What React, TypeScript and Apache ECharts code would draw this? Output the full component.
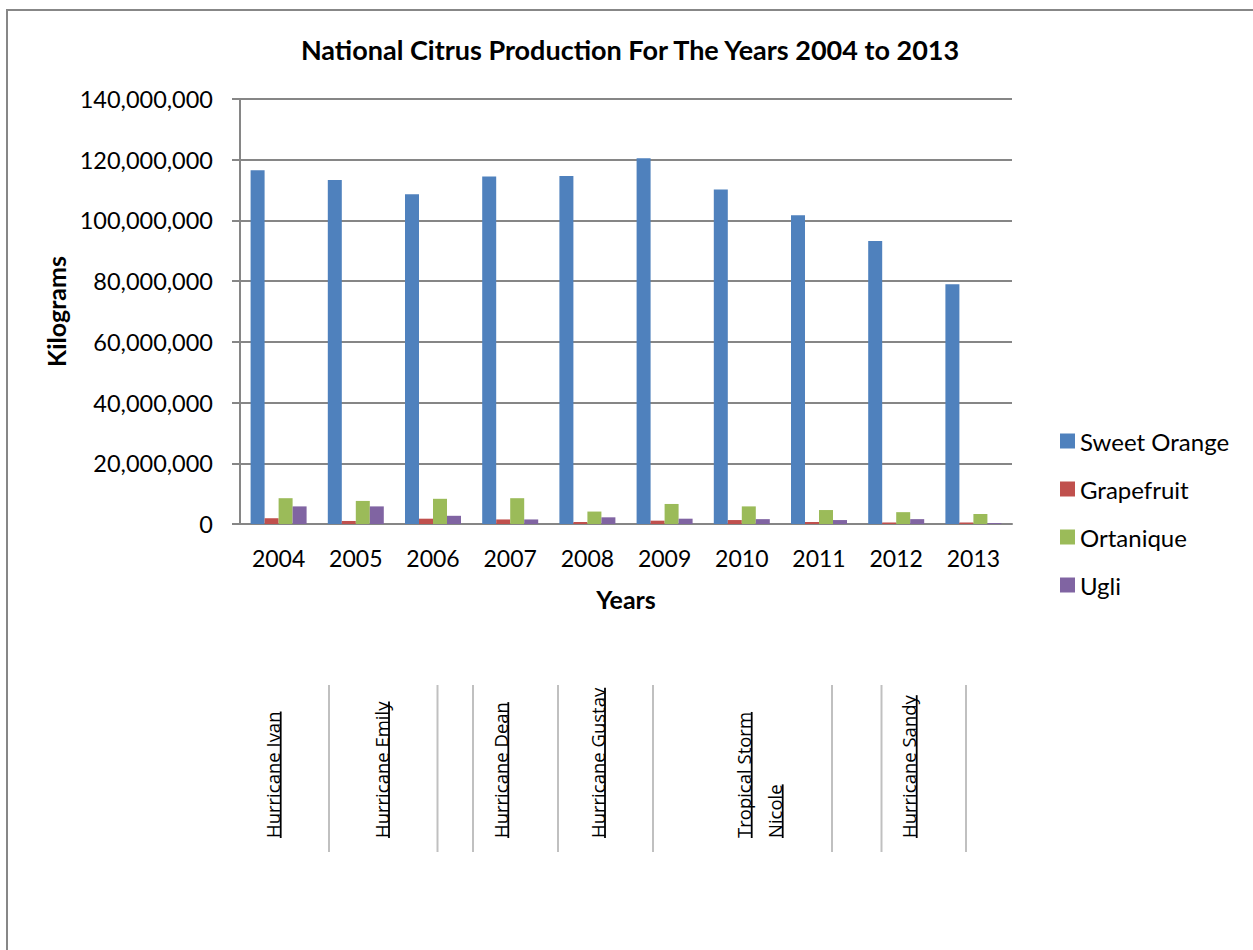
import { useEffect, useRef } from "react";
import * as echarts from "echarts";

const years = ["2004", "2005", "2006", "2007", "2008", "2009", "2010", "2011", "2012", "2013"];
const sweetOrange = [116.5e6, 113.3e6, 108.6e6, 114.5e6, 114.6e6, 120.5e6, 110.2e6, 101.7e6, 93.2e6, 79.0e6];
const grapefruit = [1.9e6, 1.0e6, 1.75e6, 1.5e6, 0.66e6, 1.1e6, 1.3e6, 0.65e6, 0.5e6, 0.5e6];
const ortanique = [8.5e6, 7.6e6, 8.3e6, 8.5e6, 4.1e6, 6.6e6, 5.8e6, 4.6e6, 3.9e6, 3.3e6];
const ugli = [5.8e6, 5.8e6, 2.7e6, 1.5e6, 2.2e6, 1.75e6, 1.6e6, 1.3e6, 1.6e6, 0.3e6];
const seriesNames = ["Sweet Orange", "Grapefruit", "Ortanique", "Ugli"];
const yMax = 140e6;
const yInterval = 20e6;

const stormLabels = [
  "Hurricane Ivan",
  "Hurricane Emily",
  "Hurricane Dean",
  "Hurricane Gustav",
  "Tropical Storm",
  "Nicole",
  "Hurricane Sandy",
];

// layout of the annotation table (pixel positions)
const stormLabelX = [280.7, 389, 508.3, 605, 751.7, 782.7, 916.7];
const separatorX = [329, 437.5, 473, 558, 653, 832, 881.5, 966];

const COLORS = ["#4F81BD", "#C0504D", "#9BBB59", "#8064A2"];
const FONT = "Lato, 'Open Sans', sans-serif";
const NOTE_FONT_SIZE = 18.5;
const NOTE_FONT = `${NOTE_FONT_SIZE}px 'Open Sans'`;

function measure(text: string): number {
  const c = document.createElement("canvas");
  const ctx = c.getContext("2d");
  if (!ctx) return text.length * 9;
  ctx.font = NOTE_FONT;
  return ctx.measureText(text).width;
}

export default function App() {
  const ref = useRef<HTMLDivElement>(null);

  useEffect(() => {
    document.body.style.margin = "0";
    if (!ref.current) return;
    const chart = echarts.init(ref.current, null, { renderer: "svg" });

    const graphics: any[] = [];
    graphics.push({
      type: "rect",
      silent: true,
      z: -10,
      shape: { x: 7, y: 10, width: 1400, height: 1200 },
      style: { fill: "none", stroke: "#878787", lineWidth: 2 },
    });
    separatorX.forEach((x) => {
      graphics.push({
        type: "line",
        silent: true,
        shape: { x1: x, y1: 685, x2: x, y2: 852 },
        style: { stroke: "#c0c0c0", lineWidth: 2 },
      });
    });
    stormLabels.forEach((label, i) => {
      const w = measure(label);
      graphics.push({
        type: "group",
        x: stormLabelX[i],
        y: 838,
        rotation: Math.PI / 2,
        children: [
          {
            type: "text",
            x: 0,
            y: -8,
            style: {
              text: label,
              fontFamily: "'Open Sans'",
              fontSize: NOTE_FONT_SIZE,
              fill: "#000",
              align: "left",
              verticalAlign: "middle",
            },
          },
          {
            type: "line",
            shape: { x1: 0, y1: 0, x2: w, y2: 0 },
            style: { stroke: "#000", lineWidth: 1.8 },
          },
        ],
      });
    });

    const data = [sweetOrange, grapefruit, ortanique, ugli];

    chart.setOption({
      animation: false,
      backgroundColor: "#ffffff",
      title: {
        text: "National Citrus Production For The Years 2004 to 2013",
        left: 630,
        textAlign: "center",
        top: 36,
        padding: 0,
        textStyle: { fontFamily: FONT, fontSize: 27, fontWeight: "bold", color: "#000" },
      },
      legend: {
        orient: "vertical",
        left: 1055,
        top: 422,
        icon: "rect",
        itemWidth: 15,
        itemHeight: 15,
        itemGap: 20,
        data: seriesNames,
        textStyle: { fontFamily: FONT, fontSize: 24, color: "#000", lineHeight: 28 },
      },
      grid: { left: 240, right: 241, top: 99, bottom: 426, containLabel: false },
      xAxis: {
        type: "category",
        data: years,
        name: "Years",
        nameLocation: "middle",
        nameGap: 62,
        nameTextStyle: { fontFamily: FONT, fontSize: 25, fontWeight: "bold", color: "#000" },
        axisLine: { lineStyle: { color: "#868686", width: 2 } },
        axisTick: { show: false },
        axisLabel: { fontFamily: FONT, fontSize: 23, color: "#000", margin: 22 },
      },
      yAxis: {
        type: "value",
        min: 0,
        max: yMax,
        interval: yInterval,
        name: "Kilograms",
        nameLocation: "middle",
        nameGap: 171,
        nameTextStyle: { fontFamily: FONT, fontSize: 25, fontWeight: "bold", color: "#000" },
        axisLine: { show: true, lineStyle: { color: "#868686", width: 2 } },
        axisTick: { show: true, length: 8, lineStyle: { color: "#868686", width: 2 } },
        axisLabel: {
          fontFamily: FONT,
          fontSize: 23.5,
          color: "#000",
          margin: 27,
          formatter: (v: number) => v.toLocaleString("en-US"),
        },
        splitLine: { lineStyle: { color: "#868686", width: 2 } },
      },
      series: seriesNames.map((name, i) => ({
        name,
        type: "bar",
        data: data[i],
        barWidth: 14,
        barGap: "0%",
        itemStyle: { color: COLORS[i] },
      })),
      graphic: graphics,
    });

    return () => chart.dispose();
  }, []);

  return <div ref={ref} style={{ width: 1253, height: 950 }} />;
}
